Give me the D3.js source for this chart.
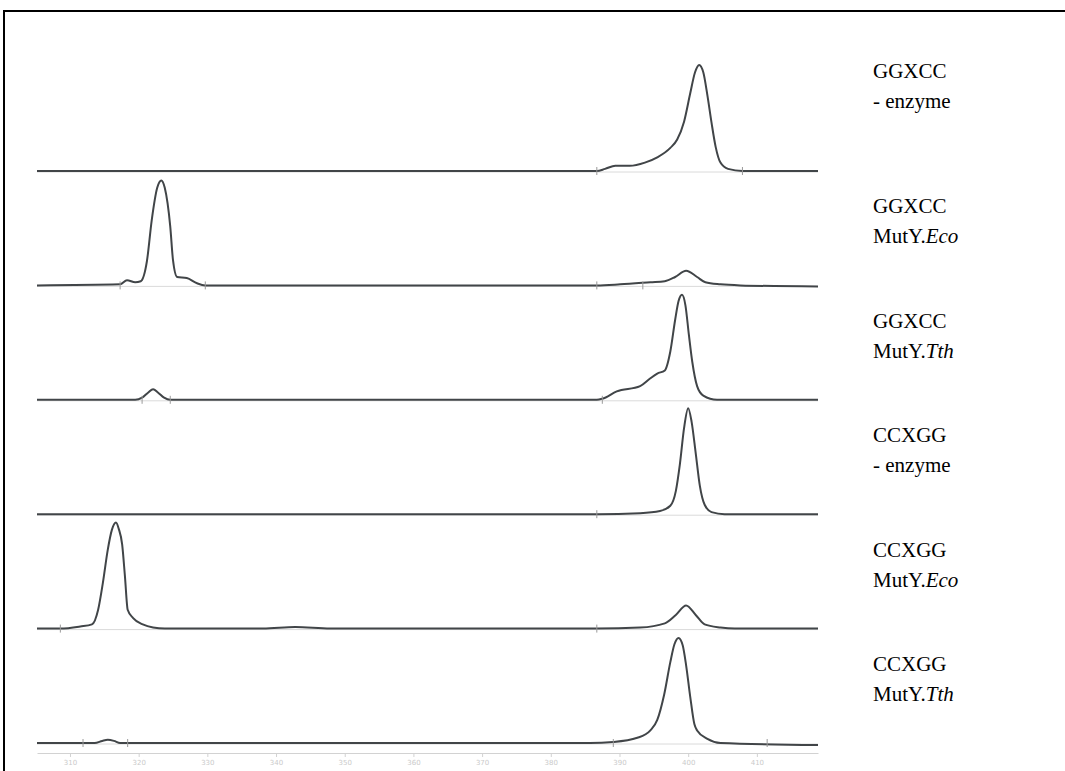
<!DOCTYPE html>
<html lang="en">
<head>
<meta charset="UTF-8">
<title>MutY cleavage traces</title>
<script src="https://d3js.org/d3.v7.min.js"></script>
<style>
    body { margin: 0; background: #fff; }
    .trace { fill: none; stroke: #414548; stroke-width: 2px; stroke-linejoin: round; }
    .base { stroke: #dadada; stroke-width: 1px; }
    .mark { stroke: #9a9a9a; stroke-width: 1px; }
    .label { font-family: "Liberation Serif", serif; font-size: 21px; fill: #000; }
    .axis text { fill: #cacaca; font-size: 7px; font-family: "DejaVu Sans", sans-serif; }
    .axis line, .axis path { stroke: #d2d2d2; }
</style>
</head>
<body>
<svg id="chart" width="1065" height="771"></svg>
<script>
    // sample labels, one per trace (top to bottom)
    const substrates = ["GGXCC", "GGXCC", "GGXCC", "CCXGG", "CCXGG", "CCXGG"];
    const enzymePlain = ["- enzyme", "MutY.", "MutY.", "- enzyme", "MutY.", "MutY."];
    const enzymeItalic = ["", "Eco", "Tth", "", "Eco", "Tth"];

    // size axis
    const tickValues = [310, 320, 330, 340, 350, 360, 370, 380, 390, 400, 410];

    // traces: [size, signal (0-100)]
    const trace1 = [[305.2,0],[386.7,0],[387.9,2],[389.4,5],[391.5,5],[393.7,8],[395.5,13],[397.4,22],
        [398.4,30],[399.4,47],[400.3,74],[401.0,94],[401.6,101],[402.2,94],[402.8,72],[403.4,46],
        [404.0,23],[404.7,8],[405.8,2],[407.9,0],[418.9,0]];
    const trace2 = [[305.2,0],[317.3,1],[318.3,5],[319.5,3],[320.3,4],[321.2,23],[321.9,62],[322.7,93],
        [323.3,100],[323.8,93],[324.6,56],[325.0,24],[325.6,8],[327.0,7],[328.5,2],[329.7,0],
        [386.7,0],[390.1,1],[394.5,3],[396.6,4],[398.1,8],[399.7,14],[401.3,8],[402.5,3],[404.7,1],
        [407.6,0],[418.9,-1]];
    const trace3 = [[305.2,0],[319.5,0],[320.5,2],[321.4,7],[322.1,10],[322.8,7],[323.7,2],[324.6,0],
        [386.7,0],[387.5,1],[389.6,8],[393.0,13],[394.4,20],[395.5,25],[396.6,28],[397.4,46],
        [398.1,76],[398.6,94],[399.1,100],[399.6,90],[400.1,62],[400.6,36],[401.3,13],[402.2,4],
        [404.2,0],[418.9,0]];
    const trace4 = [[305.2,0],[386.7,0],[393.0,1],[395.9,3],[397.4,8],[398.2,22],[398.8,48],[399.4,82],
        [400.0,101],[400.5,88],[401.1,58],[401.7,27],[402.4,9],[403.4,2],[405.3,0],[418.9,0]];
    const trace5 = [[305.2,0],[308.6,0],[311.5,2],[313.2,4],[314.1,18],[314.8,44],[315.5,75],[316.1,94],
        [316.7,101],[317.1,95],[317.6,80],[318.0,50],[318.4,18],[319.2,10],[320.6,4],[322.1,1],
        [323.8,0],[338.1,0],[342.8,1.5],[347.9,0],[386.7,0],[393.0,1],[396.6,5],[398.2,13],
        [399.7,22],[401.1,13],[402.4,4],[404.7,1],[406.8,0],[418.9,0]];
    const trace6 = [[305.2,0],[313.6,0],[314.7,2],[315.5,3],[316.4,2],[317.3,0],[385.7,0],[389.1,1],
        [392.6,5],[394.5,12],[395.5,22],[396.5,46],[397.4,77],[398.0,94],[398.6,100],[399.2,93],
        [399.7,74],[400.3,44],[400.9,18],[401.3,12],[402.8,4],[404.7,0],[418.9,-2]];
    const traces = [trace1, trace2, trace3, trace4, trace5, trace6];

    // small peak-window marks on each trace: [trace, size]
    const peakMarks = [[0,386.7],[0,407.9],[1,317.3],[1,329.7],[1,386.7],[1,393.4],[2,320.5],[2,324.6],
        [2,387.5],[3,386.7],[4,308.6],[4,386.7],[5,311.9],[5,318.4],[5,389.1],[5,411.5]];

    const svg = d3.select("#chart");

    // frame (right and bottom edges run off the page)
    svg.append("rect")
        .attr("x", 4).attr("y", 11)
        .attr("width", 1100).attr("height", 800)
        .attr("fill", "none").attr("stroke", "#000").attr("stroke-width", 2);

    const x = d3.scaleLinear().domain([305.2, 418.9]).range([37, 818]);
    const baseY = d3.scaleLinear().domain([0, 5]).range([171, 743]);
    const amp = d3.scaleLinear().domain([0, 100]).range([0, -105]);

    traces.forEach(function (tr, i) {
        let b = baseY(i);
        let g = svg.append("g");
        g.append("line").attr("class", "base")
            .attr("x1", x(305.2)).attr("x2", x(418.9))
            .attr("y1", b + 1).attr("y2", b + 1);
        let line = d3.line()
            .x(function (d) { return x(d[0]); })
            .y(function (d) { return b + amp(d[1]); })
            .curve(d3.curveMonotoneX);
        g.append("path").attr("class", "trace").attr("d", line(tr));

        let ly = i === 0 ? 78 : b - 72;
        let t = svg.append("text").attr("class", "label").attr("x", 873).attr("y", ly);
        t.text(substrates[i]);
        let t2 = svg.append("text").attr("class", "label").attr("x", 873).attr("y", ly + 30);
        t2.append("tspan").text(enzymePlain[i]);
        if (enzymeItalic[i]) t2.append("tspan").attr("font-style", "italic").text(enzymeItalic[i]);
    });

    svg.selectAll("line.mark")
        .data(peakMarks)
        .enter()
        .append("line")
        .attr("class", "mark")
        .attr("x1", function (d) { return x(d[1]); })
        .attr("x2", function (d) { return x(d[1]); })
        .attr("y1", function (d) { return baseY(d[0]) - 4; })
        .attr("y2", function (d) { return baseY(d[0]) + 4; });

    svg.append("g").attr("class", "axis")
        .attr("transform", "translate(0,753)")
        .call(d3.axisBottom(x).tickValues(tickValues).tickSize(4).tickSizeOuter(0));
</script>
</body>
</html>
